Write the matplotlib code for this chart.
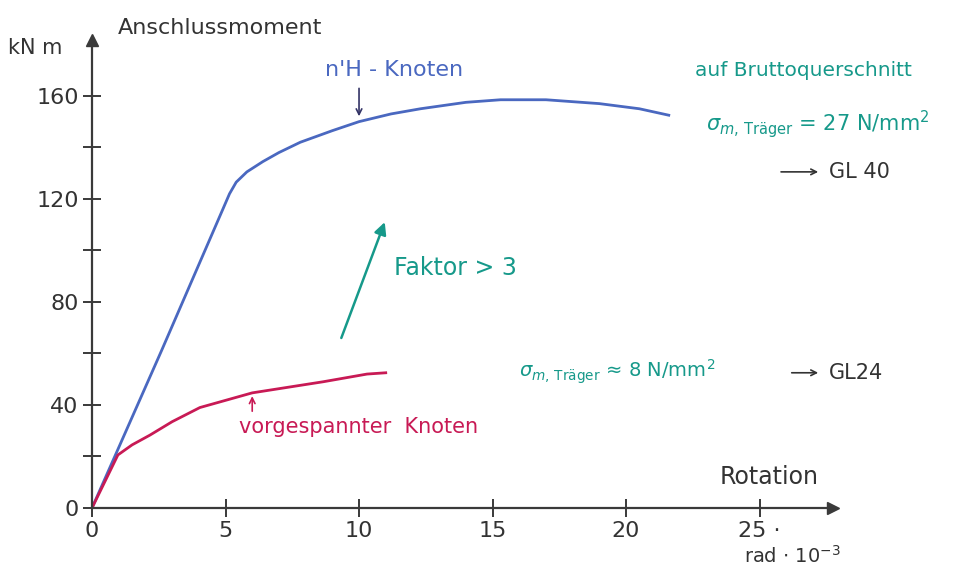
import matplotlib.pyplot as plt
import numpy as np

# data (rotation in rad*10^-3, moment in kNm)
blue_rot = [0, 2.6, 4.9, 5.15, 5.4, 5.8, 6.4, 7.0, 7.8, 9.0, 10.0, 11.2, 12.3, 14.0, 15.3, 17.0, 19.0, 20.5, 21.6]
blue_mom = [0, 61, 116, 122, 126.5, 130.5, 134.5, 138, 142, 146.5, 150, 153, 155, 157.5, 158.5, 158.5, 157, 155, 152.5]

red_rot = [0, 0.97, 1.5, 2.17, 3.0, 4.04, 6.0, 8.65, 10.3, 11.0]
red_mom = [0, 20.6, 24.5, 28.3, 33.5, 39, 44.7, 49, 52, 52.5]

x_ticks = [0, 5, 10, 15, 20, 25]
x_labels = ["0", "5", "10", "15", "20", "25 ·"]
y_ticks = [0, 40, 80, 120, 160]
y_minor = [20, 60, 100, 140]

c_blue = "#4a68c0"
c_red = "#c81a55"
c_teal = "#16998a"
c_ax = "#3a3a3a"

fig = plt.figure(figsize=(9.54, 5.69), dpi=100)
ax = fig.add_axes([92 / 954, 61 / 569, 741 / 954, 468 / 569])
ax.set_xlim(0, 27.75)
ax.set_ylim(0, 181.7)

for s in ["top", "right"]:
    ax.spines[s].set_visible(False)
for s in ["left", "bottom"]:
    ax.spines[s].set_color(c_ax)
    ax.spines[s].set_linewidth(1.6)

# arrow heads on axes
ax.plot(1, 0, ">", color=c_ax, ms=8, transform=ax.get_yaxis_transform(), clip_on=False)
ax.plot(0, 1, "^", color=c_ax, ms=8, transform=ax.get_xaxis_transform(), clip_on=False)

ax.set_xticks(x_ticks)
ax.set_xticklabels(x_labels)
ax.set_yticks(y_ticks)
ax.set_yticks(y_minor, minor=True)
ax.tick_params(axis="both", which="both", direction="inout", length=13, width=1.4,
               color=c_ax, labelsize=16, labelcolor="#333333")
ax.tick_params(axis="x", pad=3)
ax.tick_params(axis="y", pad=3)

ax.plot(blue_rot, blue_mom, color=c_blue, lw=2)
ax.plot(red_rot, red_mom, color=c_red, lw=2)

# labels
fig.text(118 / 954, 1 - 28 / 569, "Anschlussmoment", fontsize=16, color="#333333", va="center")
fig.text(8 / 954, 1 - 48 / 569, "kN m", fontsize=15, color="#333333", va="center")
ax.text(23.5, 12, "Rotation", fontsize=17, color="#333333", ha="left", va="center")
ax.text(24.4, -23, r"rad $\cdot$ 10$^{-3}$", fontsize=14, color="#333333", ha="left",
        va="bottom", clip_on=False)

# curve annotations
ax.text(11.3, 170, "n'H - Knoten", fontsize=16, color=c_blue, ha="center", va="center")
ax.annotate("", xy=(10.0, 151), xytext=(10.0, 164),
            arrowprops=dict(arrowstyle="->", color="#333366", lw=1.2))
ax.text(10.0, 31.5, "vorgespannter  Knoten", fontsize=15, color=c_red, ha="center", va="center")
ax.annotate("", xy=(6.0, 44.5), xytext=(6.0, 36.5),
            arrowprops=dict(arrowstyle="->", color=c_red, lw=1.2))

ax.annotate("", xy=(11.0, 112), xytext=(9.3, 65),
            arrowprops=dict(arrowstyle="-|>", color=c_teal, lw=1.8, mutation_scale=18))
ax.text(11.3, 93, "Faktor > 3", fontsize=17, color=c_teal, ha="left", va="center")

ax.text(22.6, 170, "auf Bruttoquerschnitt", fontsize=14.5, color=c_teal, ha="left",
        va="center", clip_on=False)
ax.text(23.0, 149, r"$\sigma_{m,\,\mathrm{Träger}}$ = 27 N/mm$^2$", fontsize=15, color=c_teal,
        ha="left", va="center", clip_on=False)
ax.annotate("", xy=(27.3, 130.5), xytext=(25.7, 130.5),
            arrowprops=dict(arrowstyle="->", color="#333333", lw=1.2))
ax.text(27.6, 130.5, "GL 40", fontsize=15, color="#333333", ha="left", va="center", clip_on=False)

ax.text(16.0, 53, r"$\sigma_{m,\,\mathrm{Träger}}$ ≈ 8 N/mm$^2$", fontsize=14, color=c_teal,
        ha="left", va="center")
ax.annotate("", xy=(27.3, 52.5), xytext=(26.1, 52.5),
            arrowprops=dict(arrowstyle="->", color="#333333", lw=1.2))
ax.text(27.6, 52.5, "GL24", fontsize=15, color="#333333", ha="left", va="center", clip_on=False)

fig.savefig("out.png", dpi=100, facecolor="white")
